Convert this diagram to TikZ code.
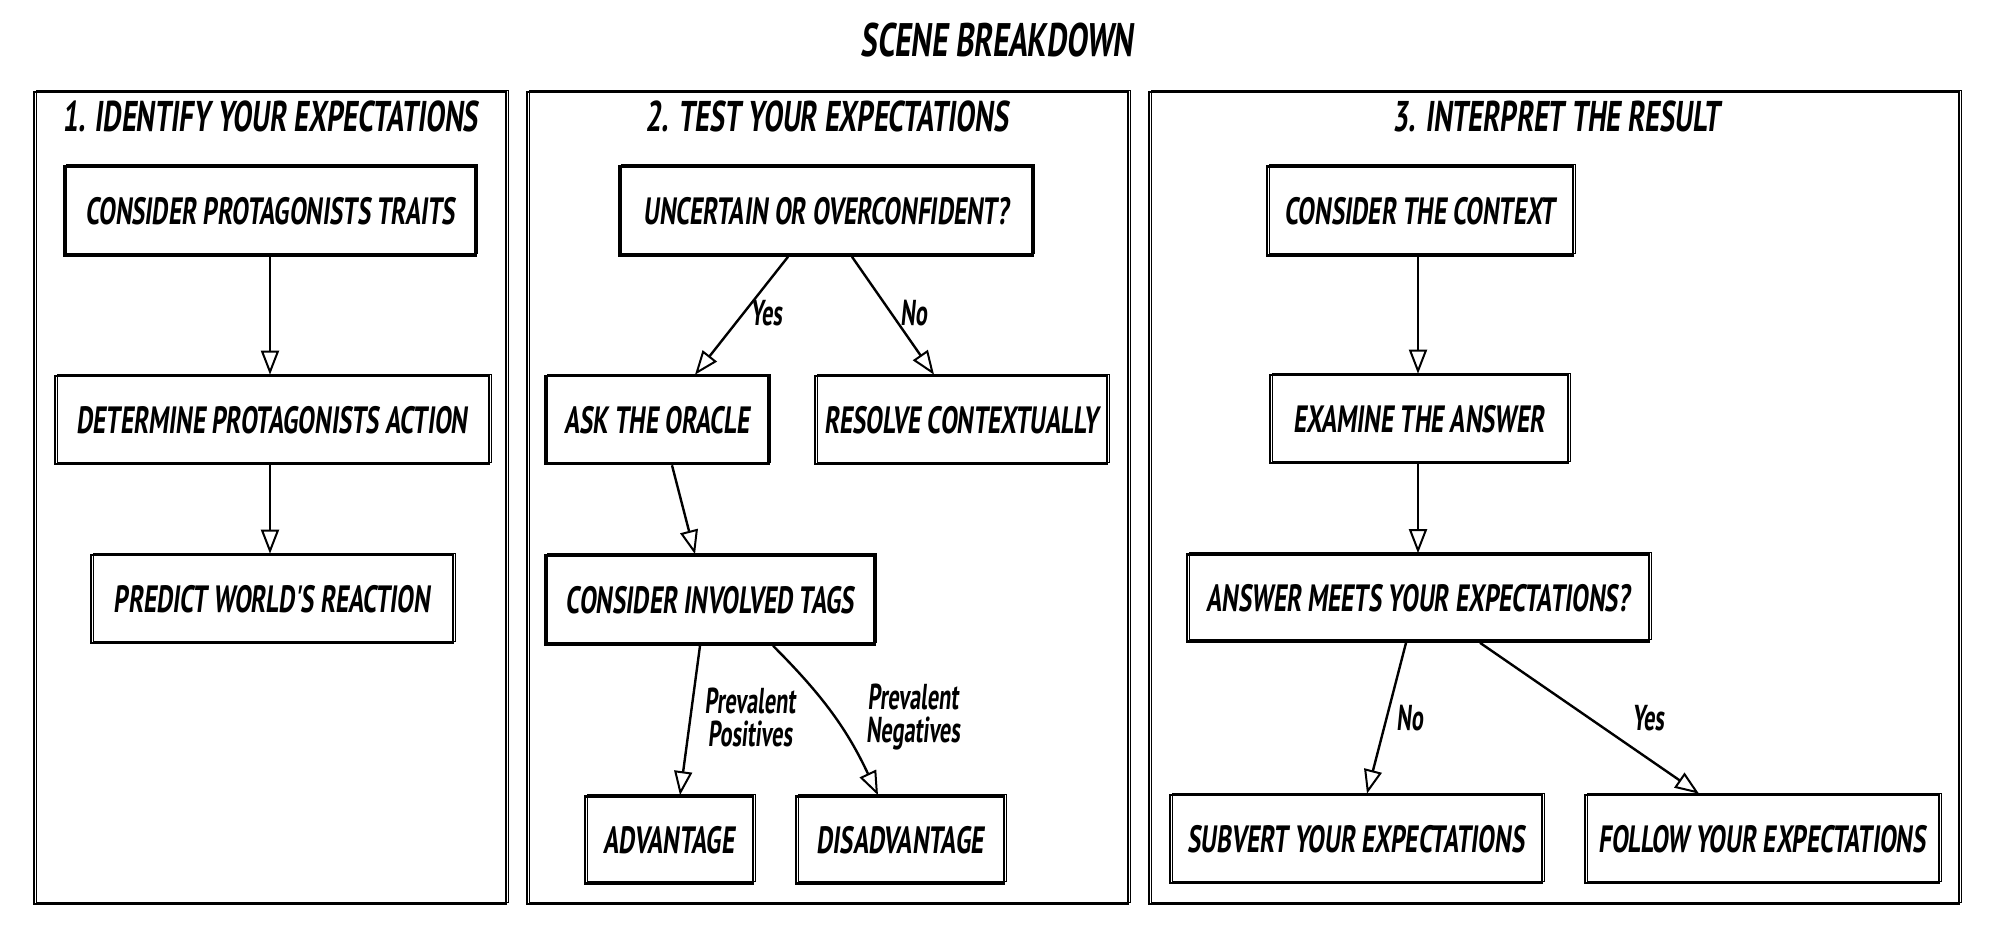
\documentclass[tikz,border=0pt]{standalone}
\usepackage{fontspec}
\usetikzlibrary{arrows.meta}
\newfontfamily\handfont{PT Sans}[FakeStretch=0.66, FakeSlant=0.12]
\newfontfamily\lblfont{PT Sans}[FakeStretch=0.62, FakeSlant=0.1]
\tikzset{
  sketch/.style={postaction={draw, line width=0.6pt, transform canvas={shift={(1.1pt,0.9pt)}}}},
  box/.style={draw, line width=1.3pt, inner sep=0pt, sketch,
    font=\handfont\bfseries\fontsize{19}{21}\selectfont},
  panel/.style={draw, line width=1.3pt, inner sep=0pt, sketch},
  ttl/.style={font=\handfont\bfseries\fontsize{21.5}{24}\selectfont, inner sep=0pt},
  lbl/.style={font=\lblfont\bfseries\fontsize{18}{16.5}\selectfont, inner sep=0pt, align=center},
  arr/.style={line width=1.2pt, -{Triangle[open, length=12pt, width=9pt, line width=1pt]}},
}
\begin{document}
\begin{tikzpicture}[x=0.5pt, y=-0.5pt]
\useasboundingbox (0,0) rectangle (2000,940);

% title
\node[ttl, font=\handfont\bfseries\fontsize{23.5}{26}\selectfont] (title) at (997,40) {SCENE BREAKDOWN};

% panels
\node[panel, minimum width=236pt, minimum height=406pt] (p1) at (270,498) {};
\node[panel, minimum width=300.5pt, minimum height=406pt] (p2) at (827.5,498) {};
\node[panel, minimum width=405pt, minimum height=406pt] (p3) at (1554,498) {};
\node[ttl] (t1) at (270,116) {1. IDENTIFY YOUR EXPECTATIONS};
\node[ttl] (t2) at (827,116) {2. TEST YOUR EXPECTATIONS};
\node[ttl] (t3) at (1556,116) {3. INTERPRET THE RESULT};

% panel 1
\node[box, minimum width=205.5pt, minimum height=44.5pt] (c1) at (270,211) {CONSIDER PROTAGONISTS TRAITS};
\node[box, minimum width=217pt, minimum height=44pt] (c2) at (272,420) {DETERMINE PROTAGONISTS ACTION};
\node[box, minimum width=181pt, minimum height=44pt] (c3) at (272,599) {PREDICT WORLD'S REACTION};
\draw[arr] (c1.south) -- (c1.south |- c2.north);
\draw[arr] (c1.south |- c2.south) -- (c1.south |- c3.north);

% panel 2
\node[box, minimum width=206.5pt, minimum height=44.5pt] (u) at (826,211) {UNCERTAIN OR OVERCONFIDENT?};
\node[box, minimum width=111.5pt, minimum height=44pt] (ask) at (657,420) {ASK THE ORACLE};
\node[box, minimum width=146pt, minimum height=44pt] (res) at (961,420) {RESOLVE CONTEXTUALLY};
\node[box, minimum width=164.5pt, minimum height=44.5pt] (tags) at (710,600) {CONSIDER INVOLVED TAGS};
\node[box, minimum width=84pt, minimum height=43.5pt] (adv) at (669,840) {ADVANTAGE};
\node[box, minimum width=104pt, minimum height=43.5pt] (dis) at (900,840) {DISADVANTAGE};
\draw[arr] ([xshift=-19pt]u.south) -- ([xshift=19pt]ask.north);
\draw[arr] ([xshift=13pt]u.south) -- ([xshift=-13.5pt]res.north);
\draw[arr] ([xshift=7.5pt]ask.south) -- ([xshift=-7.5pt]tags.north);
\draw[arr] ([xshift=-5pt]tags.south) -- ([xshift=5.5pt]adv.north);
\draw[arr] ([xshift=31.5pt]tags.south) to[bend left=10] ([xshift=-11pt]dis.north);
\node[lbl, anchor=west] (lyes1) at (750,313) {Yes};
\node[lbl, anchor=west] (lno1) at (900,313) {No};
\node[lbl] (lpos) at (750,717) {Prevalent\\Positives};
\node[lbl] (lneg) at (913,717) {Prevalent\\Negatives};

% panel 3
\node[box, minimum width=153pt, minimum height=44.5pt] (ctx) at (1420,211) {CONSIDER THE CONTEXT};
\node[box, minimum width=149pt, minimum height=44pt] (exam) at (1419,419) {EXAMINE THE ANSWER};
\node[box, minimum width=231pt, minimum height=43.5pt] (ans) at (1418,598) {ANSWER MEETS YOUR EXPECTATIONS?};
\node[box, minimum width=186pt, minimum height=44pt] (sub) at (1356,839) {SUBVERT YOUR EXPECTATIONS};
\node[box, minimum width=177pt, minimum height=44pt] (fol) at (1762,839) {FOLLOW YOUR EXPECTATIONS};
\draw[arr] ([xshift=-1pt]ctx.south) -- ([xshift=-0.5pt]exam.north);
\draw[arr] ([xshift=-0.5pt]exam.south) -- ([xshift=0pt]ans.north);
\draw[arr] ([xshift=-6pt]ans.south) -- ([xshift=5.5pt]sub.north);
\draw[arr] ([xshift=31pt]ans.south) -- ([xshift=-31.5pt]fol.north);
\node[lbl, anchor=west] (lno2) at (1396,718) {No};
\node[lbl, anchor=west] (lyes2) at (1632,718) {Yes};
\end{tikzpicture}
\end{document}
